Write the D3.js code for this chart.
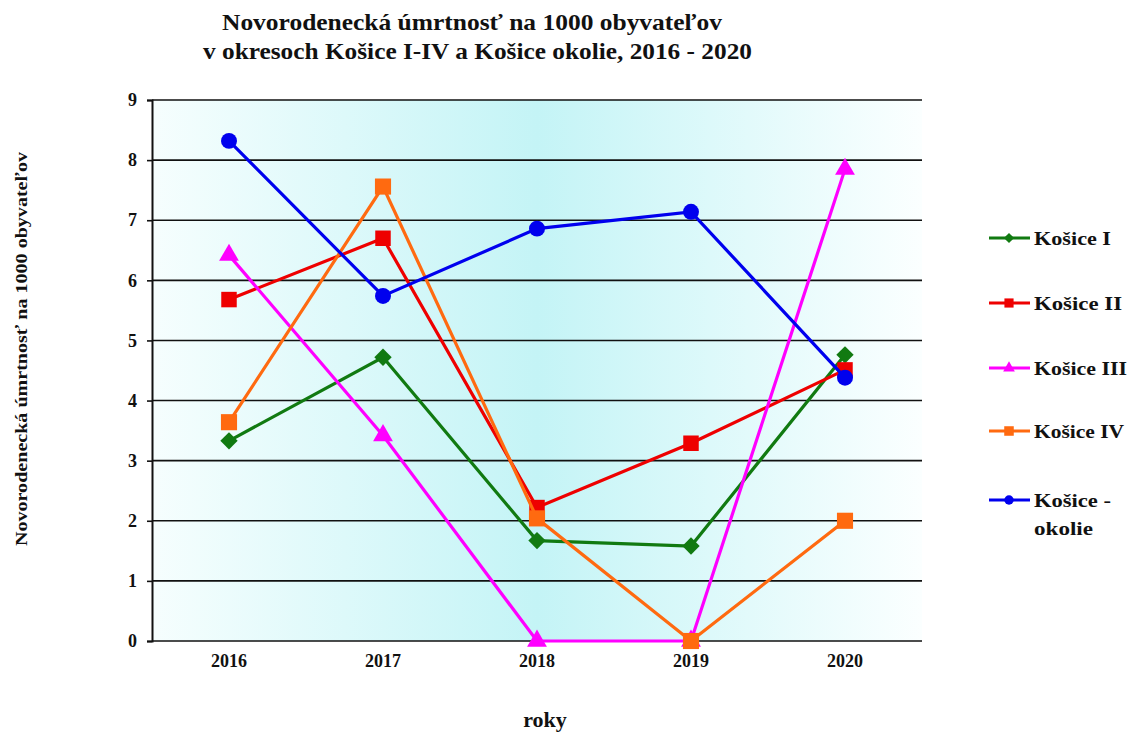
<!DOCTYPE html>
<html><head><meta charset="utf-8">
<script src="https://cdn.jsdelivr.net/npm/d3@7"></script>
<style>body{margin:0;background:#fff;} svg{display:block;}</style>
</head><body>
<svg id="c" width="1135" height="735"></svg>
<script>
const years = ["2016","2017","2018","2019","2020"];
const seriesNames = ["Košice I","Košice II","Košice III","Košice IV","Košice - okolie"];
const kosice1 = [3.33, 4.72, 1.67, 1.58, 4.76];
const kosice2 = [5.68, 6.70, 2.22, 3.29, 4.51];
const kosice3 = [6.42, 3.42, 0, 0, 7.85];
const kosice4 = [3.64, 7.56, 2.04, 0, 2.00];
const okolie = [8.32, 5.74, 6.86, 7.14, 4.38];
const yTicks = [0,1,2,3,4,5,6,7,8,9];
const colors = ["#117a11","#ee0000","#ff00ff","#ff6a10","#0000ee"];
const symbolsT = [d3.symbolSquare, d3.symbolSquare, d3.symbolTriangle, d3.symbolSquare, d3.symbolCircle];
const symRot = [45, 0, 0, 0, 0];
const symSizes = [150, 240, 170, 260, 200];
const data = [kosice1,kosice2,kosice3,kosice4,okolie];

const FONT = "Liberation Serif, Times New Roman, serif";
const svg = d3.select("#c");
const L=152, R=922, T=100, B=641;
const x = d3.scaleBand().domain(years).range([L,R]);
const y = d3.scaleLinear().domain([0,9]).range([B,T]);

const defs = svg.append("defs");
const g = defs.append("linearGradient").attr("id","bg").attr("x1","0").attr("x2","1").attr("y1","0").attr("y2","0");
g.append("stop").attr("offset","0").attr("stop-color","#f6fefe");
g.append("stop").attr("offset","0.5").attr("stop-color","#c4f4f6");
g.append("stop").attr("offset","1").attr("stop-color","#fbffff");
svg.append("rect").attr("x",L).attr("y",T).attr("width",R-L).attr("height",B-T).attr("fill","url(#bg)");

svg.append("g").selectAll("line").data(yTicks).join("line")
  .attr("x1",L).attr("x2",R).attr("y1",d=>y(d)).attr("y2",d=>y(d))
  .attr("stroke","#111").attr("stroke-width",1.6);

const yAxis = svg.append("g").attr("transform",`translate(${L},0)`)
  .call(d3.axisLeft(y).tickValues(yTicks).tickSize(5).tickPadding(10).tickFormat(d3.format("d")));
yAxis.select(".domain").attr("stroke","#111").attr("stroke-width",2);
yAxis.selectAll(".tick line").attr("stroke","#111").attr("stroke-width",1.6);
yAxis.selectAll("text").attr("font-family",FONT).attr("font-weight","bold").attr("font-size",18).attr("fill","#111");

const xAxis = svg.append("g").attr("transform",`translate(0,${B})`)
  .call(d3.axisBottom(x).tickSize(0).tickPadding(13));
xAxis.select(".domain").remove();
xAxis.selectAll("text").attr("font-family",FONT).attr("font-weight","bold").attr("font-size",18).attr("fill","#111");

const line = d3.line().x((d,i)=>x(years[i])+x.bandwidth()/2).y(d=>y(d));
data.forEach((vals,si)=>{
  const gs = svg.append("g");
  gs.append("path").attr("d",line(vals)).attr("fill","none").attr("stroke",colors[si]).attr("stroke-width",3.2);
  gs.selectAll("path.m").data(vals).join("path").attr("class","m")
    .attr("transform",(d,i)=>`translate(${x(years[i])+x.bandwidth()/2},${y(d)}) rotate(${symRot[si]})`)
    .attr("d",d3.symbol().type(symbolsT[si]).size(symSizes[si]))
    .attr("fill",colors[si]);
});

const title = svg.append("text").attr("font-family",FONT).attr("font-weight","bold").attr("font-size",23).attr("fill","#111");
title.append("tspan").attr("x",222).attr("y",30).attr("textLength",500).attr("lengthAdjust","spacingAndGlyphs").text("Novorodenecká úmrtnosť  na 1000 obyvateľov");
title.append("tspan").attr("x",203).attr("y",59).attr("textLength",549).attr("lengthAdjust","spacingAndGlyphs").text("v okresoch Košice I-IV a Košice okolie, 2016 - 2020");

svg.append("text").attr("transform","translate(27,546) rotate(-90)")
  .attr("font-family",FONT).attr("font-weight","bold").attr("font-size",17).attr("fill","#111")
  .attr("textLength",394).attr("lengthAdjust","spacingAndGlyphs")
  .text("Novorodenecká úmrtnosť na 1000 obyvateľov");
svg.append("text").attr("x",545).attr("y",727).attr("text-anchor","middle")
  .attr("font-family",FONT).attr("font-weight","bold").attr("font-size",22).attr("fill","#111").text("roky");

const legY = [238, 303, 368, 431, 500];
const legW = [77, 88, 93, 90, 77];
seriesNames.forEach((n,i)=>{
  const lg = svg.append("g").attr("transform",`translate(0,${legY[i]})`);
  lg.append("line").attr("x1",989).attr("x2",1030).attr("y1",0).attr("y2",0).attr("stroke",colors[i]).attr("stroke-width",3.2);
  lg.append("path").attr("transform",`translate(1009,0) rotate(${symRot[i]})`).attr("d",d3.symbol().type(symbolsT[i]).size(symSizes[i]*0.35)).attr("fill",colors[i]);
  const t = lg.append("text").attr("font-family",FONT).attr("font-weight","bold").attr("font-size",19).attr("fill","#111");
  if (n === "Košice - okolie") {
    t.append("tspan").attr("x",1034).attr("y",7).attr("textLength",legW[i]).attr("lengthAdjust","spacingAndGlyphs").text("Košice -");
    t.append("tspan").attr("x",1034).attr("y",35).attr("textLength",59).attr("lengthAdjust","spacingAndGlyphs").text("okolie");
  } else {
    t.attr("x",1034).attr("y",7).attr("textLength",legW[i]).attr("lengthAdjust","spacingAndGlyphs").text(n);
  }
});
</script>
</body></html>
